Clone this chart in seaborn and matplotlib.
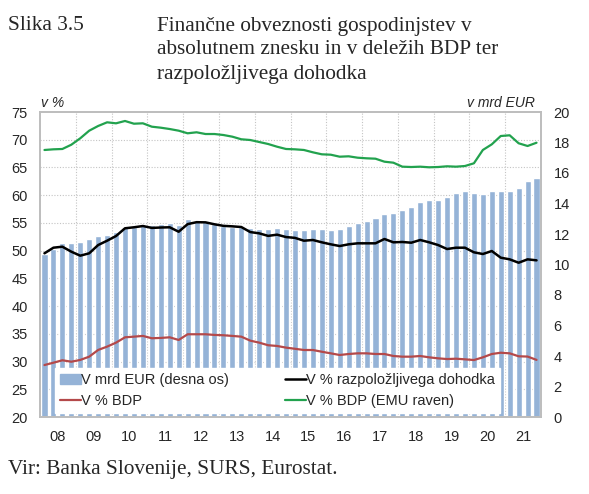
import numpy as np
import pandas as pd
import seaborn as sns
import matplotlib
matplotlib.use("Agg")
from matplotlib import pyplot as plt
from matplotlib.patches import Patch
from matplotlib.lines import Line2D

# quarterly data 2008Q1 - 2021Q4
years = list(range(2008, 2022))
quarters = [f"{y}Q{q}" for y in years for q in range(1, 5)]
year_labels = ["08", "09", "10", "11", "12", "13", "14", "15", "16", "17", "18", "19", "20", "21"]

# v mrd EUR (desna os)
mrd_eur = [10.67, 11.03, 11.39, 11.41, 11.49, 11.65, 11.90, 11.94, 12.16, 12.46, 12.48, 12.59, 12.57, 12.66,
           12.72, 12.61, 12.96, 12.85, 12.77, 12.65, 12.55, 12.46, 12.46, 12.38, 12.34, 12.30, 12.39, 12.33,
           12.28, 12.23, 12.32, 12.30, 12.26, 12.32, 12.53, 12.74, 12.87, 13.03, 13.32, 13.40, 13.58, 13.75,
           14.08, 14.20, 14.25, 14.40, 14.69, 14.80, 14.69, 14.61, 14.83, 14.80, 14.83, 15.04, 15.48, 15.69]

# v % razpolozljivega dohodka
pct_income = [49.52, 50.53, 50.71, 49.81, 49.09, 49.52, 51.01, 51.79, 52.64, 54.03, 54.21, 54.44, 54.10, 54.17,
              54.21, 53.41, 54.78, 55.13, 55.10, 54.75, 54.47, 54.38, 54.26, 53.35, 53.12, 52.66, 52.88, 52.45,
              52.30, 51.79, 51.92, 51.50, 51.14, 50.83, 51.14, 51.32, 51.32, 51.32, 52.10, 51.50, 51.56, 51.43,
              51.92, 51.50, 51.01, 50.29, 50.53, 50.53, 49.70, 49.39, 49.93, 48.73, 48.43, 47.82, 48.43, 48.25]

# v % BDP
pct_gdp = [29.37, 29.79, 30.23, 29.97, 30.29, 30.88, 32.09, 32.69, 33.41, 34.37, 34.49, 34.62, 34.20, 34.26,
           34.37, 33.89, 34.92, 34.92, 34.92, 34.80, 34.74, 34.62, 34.49, 33.77, 33.41, 32.94, 32.81, 32.51,
           32.30, 32.08, 32.08, 31.77, 31.48, 31.18, 31.36, 31.48, 31.48, 31.36, 31.36, 31.00, 30.88, 30.88,
           31.00, 30.76, 30.58, 30.45, 30.51, 30.40, 30.27, 30.76, 31.36, 31.59, 31.48, 30.95, 30.90, 30.30]

# v % BDP (EMU raven)
pct_gdp_emu = [68.15, 68.27, 68.33, 69.10, 70.26, 71.63, 72.48, 73.14, 72.96, 73.38, 72.89, 72.96, 72.35, 72.17,
               71.93, 71.63, 71.16, 71.34, 71.03, 71.03, 70.85, 70.55, 70.08, 69.95, 69.59, 69.23, 68.74, 68.33,
               68.27, 68.15, 67.73, 67.37, 67.30, 66.94, 67.01, 66.76, 66.65, 66.58, 66.04, 65.86, 65.14, 65.08,
               65.14, 65.03, 65.08, 65.21, 65.14, 65.26, 65.75, 68.15, 69.17, 70.67, 70.80, 69.36, 68.87, 69.46]

BAR = "#95B3D7"
RED = "#B4494A"
GREEN = "#22A24E"
GRID = "#c4c4c4"

sns.set_style("white")
plt.rcParams["font.family"] = ["Liberation Sans", "DejaVu Sans"]

df = pd.DataFrame({"quarter": quarters, "mrd_eur": mrd_eur, "pct_income": pct_income,
                   "pct_gdp": pct_gdp, "pct_gdp_emu": pct_gdp_emu})
df["pos"] = np.arange(len(df))

fig = plt.figure(figsize=(5.89, 4.94), dpi=100)
ax_bar = fig.add_axes([40 / 589, 77 / 494, 501 / 589, 305 / 494])

# grid (left axis steps) behind the bars
for v in range(25, 75, 5):
    ax_bar.axhline((v - 20) * 20 / 55, color=GRID, lw=0.8, ls=(0, (1, 1.5)), zorder=0)
for k in range(1, len(years)):
    ax_bar.axvline(4 * k - 0.5, color=GRID, lw=0.8, ls=(0, (1, 1.5)), zorder=0)

sns.barplot(data=df, x="quarter", y="mrd_eur", color=BAR, saturation=1, width=0.68, ax=ax_bar)
ax_bar.set_ylim(0, 20)
ax_bar.set_yticks(range(0, 21, 2))
ax_bar.set_xlim(-0.5, len(df) - 0.5)
ax_bar.set_xticks([4 * k + 1.5 for k in range(len(years))])
ax_bar.set_xticklabels(year_labels)
ax_bar.set_xlabel("")
ax_bar.set_ylabel("")

ax_line = ax_bar.twinx()
sns.lineplot(data=df, x="pos", y="pct_gdp_emu", color=GREEN, lw=1.6, ax=ax_line)
sns.lineplot(data=df, x="pos", y="pct_income", color="black", lw=1.8, ax=ax_line)
sns.lineplot(data=df, x="pos", y="pct_gdp", color=RED, lw=1.6, ax=ax_line)
ax_line.set_ylim(20, 75)
ax_line.set_yticks(range(20, 76, 5))
ax_line.set_xlim(-0.5, len(df) - 0.5)
ax_line.set_xlabel("")
ax_line.set_ylabel("")

# bars on the right scale, lines on the left scale
ax_bar.yaxis.tick_right()
ax_line.yaxis.tick_left()

for ax in (ax_bar, ax_line):
    ax.tick_params(length=0, labelsize=10.5, pad=9)
for s in ax_bar.spines.values():
    s.set_color("#bdbdbd")
    s.set_linewidth(1.4)
for s in ax_line.spines.values():
    s.set_visible(False)

handles = [Patch(color=BAR), Line2D([], [], color=RED, lw=1.6),
           Line2D([], [], color="black", lw=1.8), Line2D([], [], color=GREEN, lw=1.6)]
labels = ["V mrd EUR (desna os)", "V % BDP", "V % razpoložljivega dohodka", "V % BDP (EMU raven)"]
leg = ax_line.legend(handles, labels, ncol=2, loc="lower left",
                     bbox_to_anchor=(55 / 589, 81 / 494), bbox_transform=fig.transFigure,
                     frameon=True, fancybox=False, framealpha=1, facecolor="white", edgecolor="white",
                     fontsize=10.5, handlelength=1.4, handletextpad=0.0, columnspacing=3.9,
                     borderpad=0.35, labelspacing=0.45, borderaxespad=0)

serif = ["Liberation Serif", "DejaVu Serif"]
fig.text(8 / 589, 1 - 30.5 / 494, "Slika 3.5", family=serif, fontsize=15.3, va="baseline")
title_lines = ["Finančne obveznosti gospodinjstev v",
               "absolutnem znesku in v deležih BDP ter",
               "razpoložljivega dohodka"]
for i, line in enumerate(title_lines):
    fig.text(157 / 589, 1 - (30.5 + 24 * i) / 494, line, family=serif, fontsize=15.3, va="baseline")
fig.text(8 / 589, 1 - 474 / 494, "Vir: Banka Slovenije, SURS, Eurostat.", family=serif,
         fontsize=15.3, va="baseline")
fig.text(41 / 589, 1 - 107 / 494, "v %", style="italic", fontsize=10, va="baseline")
fig.text(535 / 589, 1 - 107 / 494, "v mrd EUR", style="italic", fontsize=10, va="baseline", ha="right")

fig.savefig("out.png", dpi=100)
